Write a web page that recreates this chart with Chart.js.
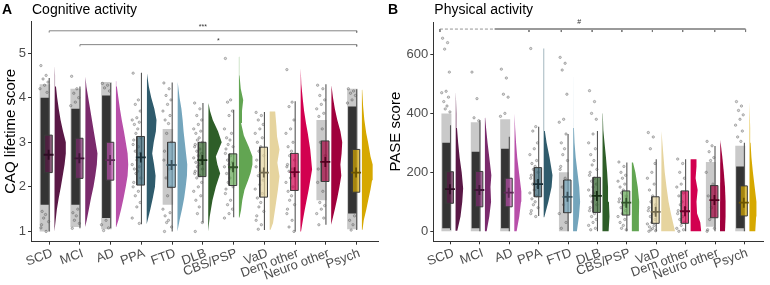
<!DOCTYPE html>
<html>
<head>
<meta charset="utf-8">
<script src="https://cdn.jsdelivr.net/npm/chart.js@4.4.1/dist/chart.umd.min.js"></script>
<style>
  html, body { margin: 0; padding: 0; background: #fff; }
  #wrap { position: relative; width: 770px; height: 285px; }
  .panel { position: absolute; top: 0; width: 385px; height: 285px; }
</style>
</head>
<body>
<div id="wrap">
  <div class="panel" style="left:0"><canvas id="cog" width="385" height="285"></canvas></div>
  <div class="panel" style="left:385px"><canvas id="pase" width="385" height="285"></canvas></div>
</div>
<script>
const groups = ['SCD', 'MCI', 'AD', 'PPA', 'FTD', 'DLB', 'CBS/PSP', 'VaD', 'Dem other', 'Neuro other', 'Psych'];
const groupColors = ['#5a1846', '#7a2a6c', '#b84fa9', '#2f5b6c', '#74a5bc', '#2e5e28', '#62a552', '#e6d49e', '#d2004f', '#a0003c', '#d6a800'];

// --- A: cognitive activity (CAQ lifetime score)
const cogYTicks = [1, 2, 3, 4, 5];
const cogQ1 = [2.32, 2.19, 2.15, 2.04, 1.99, 2.23, 2.03, 1.77, 1.92, 2.12, 1.88];
const cogQ3 = [3.16, 3.09, 3.0, 3.13, 3.0, 3.0, 2.74, 2.89, 2.75, 3.03, 2.84];
const cogMean = [2.72, 2.64, 2.6, 2.66, 2.49, 2.6, 2.44, 2.32, 2.33, 2.56, 2.32];
const cogWhiskLo = [1.0, 1.07, 1.07, 1.16, 1.0, 1.2, 1.32, 1.03, 1.0, 1.15, 1.03];
const cogWhiskHi = [4.44, 4.25, 4.33, 4.56, 4.34, 3.88, 3.73, 3.68, 3.92, 4.3, 4.19];
const cogCoreLo = [1.6, 1.6, 1.3, null, null, null, null, null, null, null, 1.4];
const cogCoreHi = [4.0, 3.75, 4.05, null, null, null, null, null, null, null, 3.8];
const cogFringeLo = [1.0, 1.1, 1.05, null, 1.6, null, null, null, null, 1.7, 1.05];
const cogFringeHi = [4.3, 4.2, 4.35, null, 3.3, null, null, null, null, 3.5, 4.2];
const cogPoints = [
  [4.72, 4.5, 4.42, 4.35, 4.28, 4.2, 4.12, 1.45, 1.38, 1.3, 1.22, 1.15, 1.08, 1.0],
  [4.48, 4.2, 4.1, 4.0, 3.9, 3.82, 1.5, 1.42, 1.35, 1.25, 1.18, 1.07],
  [4.32, 4.28, 4.22, 4.15, 1.25, 1.15, 1.08, 1.02],
  [4.55, 3.95, 3.85, 3.7, 3.55, 3.5, 3.45, 3.4, 3.3, 3.2, 3.1, 3.05, 2.95, 2.9, 2.8, 2.75, 2.6, 2.5, 2.45, 2.4, 2.35, 2.3, 2.2, 2.1, 2.0, 1.9, 1.8, 1.65, 1.55, 1.3, 1.18],
  [4.33, 4.2, 4.05, 3.95, 3.85, 3.7, 3.6, 3.5, 3.42, 3.2, 3.0, 2.8, 2.6, 2.4, 2.2, 2.0, 1.8, 1.5, 1.42, 1.35, 1.25, 1.2, 1.1, 1.0],
  [3.88, 3.75, 3.6, 3.5, 3.4, 3.3, 3.25, 3.2, 3.1, 3.05, 3.0, 2.95, 2.9, 2.85, 2.8, 2.75, 2.7, 2.65, 2.6, 2.55, 2.5, 2.45, 2.4, 2.35, 2.3, 2.25, 2.2, 2.1, 2.0, 1.9, 1.8, 1.7, 1.55, 1.4, 1.2, 1.0],
  [4.88, 3.95, 3.9, 3.7, 3.6, 3.3, 3.2, 3.1, 3.05, 2.95, 2.9, 2.85, 2.75, 2.7, 2.6, 2.55, 2.5, 2.45, 2.4, 2.3, 2.2, 2.1, 2.0, 1.95, 1.85, 1.7, 1.6, 1.5, 1.4, 1.3],
  [3.67, 3.6, 3.5, 3.4, 3.3, 3.2, 3.1, 3.0, 2.9, 2.8, 2.7, 2.6, 2.45, 2.35, 2.25, 2.15, 2.05, 1.95, 1.85, 1.75, 1.65, 1.55, 1.45, 1.35, 1.25, 1.15, 1.05],
  [4.63, 3.9, 3.8, 3.5, 3.3, 3.2, 3.0, 2.9, 2.8, 2.7, 2.6, 2.5, 2.45, 2.4, 2.35, 2.3, 2.2, 2.1, 2.0, 1.9, 1.8, 1.7, 1.6, 1.5, 1.4, 1.25, 1.1, 1.0],
  [4.28, 4.2, 4.05, 3.95, 3.85, 3.75, 3.65, 3.58, 3.3, 3.0, 2.7, 2.4, 2.1, 1.9, 1.65, 1.58, 1.5, 1.4, 1.3, 1.15],
  [4.2, 4.15, 4.1, 4.05, 3.95, 3.88, 1.35, 1.25, 1.15, 1.03]
];
// half violins: [score, width in category units]
const cogViolins = [
  [[1.0, .01], [1.25, .04], [1.5, .08], [1.75, .14], [2, .21], [2.25, .27], [2.5, .33], [2.75, .37], [3, .37], [3.25, .28], [3.5, .2], [3.75, .14], [4, .09], [4.25, .05], [4.5, .02], [4.72, .01]],
  [[1.1, .01], [1.25, .05], [1.5, .12], [1.75, .19], [2, .27], [2.25, .33], [2.5, .38], [2.75, .4], [3, .34], [3.25, .28], [3.5, .22], [3.75, .16], [4, .1], [4.25, .04], [4.47, .01]],
  [[1.1, .01], [1.25, .08], [1.5, .17], [1.75, .25], [2, .32], [2.25, .38], [2.5, .4], [2.75, .38], [3, .32], [3.25, .26], [3.5, .19], [3.75, .13], [4, .08], [4.25, .03], [4.37, .01]],
  [[1.16, .01], [1.3, .05], [1.5, .12], [1.75, .2], [2, .27], [2.25, .29], [2.5, .24], [2.75, .18], [3, .23], [3.25, .3], [3.5, .32], [3.75, .25], [4, .15], [4.25, .07], [4.55, .01]],
  [[1.0, .01], [1.25, .07], [1.5, .15], [1.75, .22], [2, .27], [2.25, .31], [2.5, .32], [2.75, .28], [3, .24], [3.25, .2], [3.5, .17], [3.75, .13], [4, .07], [4.35, .01]],
  [[1.0, .01], [1.33, .05], [1.7, .14], [2.0, .25], [2.3, .39], [2.5, .3], [2.68, .25], [2.85, .35], [3.0, .44], [3.25, .32], [3.5, .15], [3.7, .06], [3.88, .01]],
  [[1.31, .02], [1.48, .07], [1.7, .11], [1.93, .18], [2.15, .3], [2.31, .38], [2.5, .44], [2.68, .44], [2.9, .32], [3.15, .16], [3.43, .07], [3.7, .1], [3.95, .14], [4.2, .06], [4.5, .02], [4.92, .01]],
  [[1.04, .03], [1.19, .11], [1.56, .19], [1.94, .27], [2.24, .32], [2.54, .25], [2.84, .32], [3.13, .24], [3.36, .22], [3.69, .18]],
  [[1.0, .02], [1.25, .08], [1.48, .14], [1.94, .27], [2.39, .38], [2.84, .32], [3.2, .24], [3.43, .18], [3.7, .12], [3.95, .08], [4.3, .03], [4.66, .01]],
  [[1.15, .02], [1.5, .12], [1.75, .2], [2.0, .27], [2.25, .33], [2.5, .3], [2.75, .34], [3.0, .36], [3.25, .3], [3.5, .2], [3.75, .12], [4.0, .06], [4.28, .01]],
  [[1.04, .02], [1.25, .06], [1.48, .14], [1.75, .22], [1.94, .28], [2.15, .33], [2.31, .36], [2.5, .34], [2.68, .28], [3.0, .2], [3.21, .14], [3.5, .08], [3.8, .04], [4.18, .01]]
];
const cogBracketFrom = [0, 1];
const cogBracketTo = [10, 10];
const cogBracketY = [5.5, 5.19];
const cogBracketLabel = ['***', '*'];

// --- B: physical activity (PASE score)
const paseYTicks = [0, 200, 400, 600];
const paseQ1 = [95, 83, 83, 117, 63, 64, 55, 27, 27, 46, 52];
const paseQ3 = [202, 203, 180, 216, 174, 183, 137, 117, 137, 155, 154];
const paseMean = [143, 140, 131, 160, 117, 120, 97, 66, 68, 106, 97];
const paseWhiskLo = [4, 0, 0, 52, 0, 0, 0, 0, 0, 0, 0];
const paseWhiskHi = [360, 377, 321, 355, 330, 340, 233, 244, 244, 289, 300];
const paseCoreLo = [10, 10, 10, null, null, null, null, null, null, null, 10];
const paseCoreHi = [300, 270, 280, null, null, null, null, null, null, null, 220];
const paseFringeLo = [0, 0, 0, null, 0, null, null, null, null, 15, 0];
const paseFringeHi = [400, 370, 380, null, 200, null, null, null, null, 235, 290];
const pasePoints = [
  [655, 640, 618, 540, 475, 470, 455, 440, 425, 415, 405],
  [540, 450, 385, 375],
  [550, 520, 465, 455, 400, 390],
  [620, 355, 340, 300, 280, 260, 240, 230, 220, 210, 200, 190, 180, 170, 160, 150, 140, 130, 120, 110, 100, 90, 80, 70, 60, 50],
  [590, 570, 547, 465, 380, 370, 330, 300, 280, 260, 240, 220, 210, 180, 150, 120, 90, 60, 30, 10],
  [477, 440, 400, 380, 330, 300, 280, 260, 240, 225, 210, 200, 190, 180, 170, 160, 150, 140, 130, 120, 110, 100, 90, 80, 70, 60, 50, 40, 30, 20, 10, 5],
  [235, 220, 200, 190, 180, 170, 160, 150, 140, 130, 120, 110, 100, 90, 80, 70, 60, 50, 40, 30, 20, 10, 5],
  [335, 320, 280, 230, 200, 180, 160, 140, 120, 100, 90, 80, 70, 60, 50, 40, 30, 25, 20, 15, 10, 5, 2, 0],
  [245, 230, 200, 180, 160, 150, 130, 120, 100, 90, 80, 70, 60, 50, 40, 30, 20, 10, 5, 0],
  [305, 290, 270, 250, 240, 200, 160, 120, 80, 40, 10, 5, 0],
  [440, 425, 410, 395, 380, 360, 340, 320, 305]
];
const paseViolins = [
  [[2, .06], [50, .17], [100, .23], [145, .26], [200, .21], [250, .14], [300, .09], [350, .05], [400, .03], [475, .01]],
  [[0, .06], [50, .15], [100, .21], [150, .19], [190, .22], [250, .15], [300, .09], [350, .04], [385, .01]],
  [[0, .08], [50, .17], [100, .23], [135, .24], [200, .16], [250, .1], [300, .06], [350, .03], [400, .01]],
  [[48, .02], [100, .16], [150, .27], [190, .3], [250, .2], [300, .1], [340, .04], [375, .015], [620, .015]],
  [[0, .13], [50, .2], [100, .24], [150, .21], [200, .15], [250, .09], [300, .05], [350, .03], [400, .02], [590, .012]],
  [[0, .21], [50, .24], [100, .22], [150, .19], [200, .16], [250, .12], [300, .07], [343, .03], [400, .012], [479, .01]],
  [[0, .22], [50, .24], [100, .25], [150, .2], [200, .12], [233, .04]],
  [[0, .47], [30, .4], [60, .33], [100, .25], [150, .18], [200, .12], [250, .08], [300, .04], [340, .01]],
  [[0, .36], [30, .33], [60, .22], [100, .2], [140, .24], [180, .17], [220, .2], [244, .2]],
  [[0, .17], [50, .19], [100, .19], [150, .17], [200, .13], [250, .08], [310, .01]],
  [[0, .2], [50, .23], [100, .24], [150, .18], [200, .12], [250, .07], [300, .04], [350, .025], [440, .01]]
];
const paseBracketY = 686;
const paseBracketEnds = [-0.36, 2.67, 3.77, 4.82, 5.83, 6.87, 7.9, 8.99, 10.04];
const paseDashTo = 1.5;
const paseBracketLabel = '#';

const FONT = '"Liberation Sans", Arial, sans-serif';
const jitter = [-0.27, -0.1, -0.2, -0.04, -0.15, -0.3, -0.07, -0.23, -0.12, -0.18, -0.02, -0.25];

function shade(hex, f, a) {
  const n = parseInt(hex.slice(1), 16);
  const r = (n >> 16) & 255, g = (n >> 8) & 255, b = n & 255;
  return `rgba(${Math.round(r * f)},${Math.round(g * f)},${Math.round(b * f)},${a})`;
}

function rect(x0, x1, y0, y1, fill, order, border) {
  return {
    data: [{x: x0, y: y0}, {x: x1, y: y0}, {x: x1, y: y1}, {x: x0, y: y1}, {x: x0, y: y0}],
    fill: 'shape', backgroundColor: fill,
    borderColor: border || 'rgba(0,0,0,0)', borderWidth: border ? 1 : 0,
    pointRadius: 0, order: order
  };
}

function segment(pts, color, width, order, dash) {
  return {data: pts, borderColor: color, borderWidth: width, borderDash: dash || [], pointRadius: 0, fill: false, order: order};
}

function groupDatasets(d) {
  const ds = [];
  groups.forEach((g, i) => {
    const col = groupColors[i];
    if (d.fringeLo[i] != null) ds.push(rect(i - 0.31, i + 0.03, d.fringeLo[i], d.fringeHi[i], 'rgba(60,60,60,0.28)', 8));
    if (d.coreLo[i] != null) ds.push(rect(i - 0.28, i + 0.0, d.coreLo[i], d.coreHi[i], 'rgba(12,12,12,0.85)', 8));
    ds.push({
      data: d.points[i].map((v, k) => ({x: i + jitter[k % jitter.length], y: v})),
      showLine: false, pointRadius: 1.2, pointBackgroundColor: 'rgba(150,150,150,0.35)',
      pointBorderColor: 'rgba(40,40,40,0.5)', pointBorderWidth: 0.6, order: 7
    });
    // half violin to the right of the box
    const base = i + 0.17;
    const v = d.violins[i];
    const poly = [{x: base, y: v[0][0]}]
      .concat(v.map(p => ({x: base + p[1], y: p[0]})))
      .concat([{x: base, y: v[v.length - 1][0]}]);
    ds.push({data: poly, fill: 'shape', backgroundColor: col, borderWidth: 0, pointRadius: 0, order: 6});
    ds.push(segment([{x: i, y: d.lo[i]}, {x: i, y: d.hi[i]}], '#555', 1.1, 5));
    ds.push(rect(i - 0.15, i + 0.1, d.q1[i], d.q3[i], shade(col, 1, 0.7), 4, '#3a3a3a'));
    ds.push({
      data: [{x: i - 0.02, y: d.mean[i]}], showLine: false, pointStyle: 'cross',
      pointRadius: 5, pointBorderColor: shade(col, 0.5, 1), pointBorderWidth: 1.8, order: 3
    });
  });
  return ds;
}

function textPlugin(cfg) {
  return {
    id: 'panelText',
    afterDraw(chart) {
      const {ctx, chartArea, scales} = chart;
      ctx.save();
      ctx.fillStyle = '#000';
      ctx.textBaseline = 'alphabetic';
      ctx.textAlign = 'left';
      ctx.font = 'bold 14px ' + FONT;
      ctx.fillText(cfg.letter, cfg.letterX, 14);
      ctx.font = '14px ' + FONT;
      ctx.fillText(cfg.title, chartArea.left + 1, 14);
      ctx.fillStyle = '#333';
      ctx.font = '7px ' + FONT;
      ctx.textAlign = 'center';
      cfg.labels.forEach(l => {
        ctx.fillText(l.text, scales.x.getPixelForValue(l.x), scales.y.getPixelForValue(l.y) - 2);
      });
      ctx.restore();
    }
  };
}

function axisStyle() {
  return {
    grid: {display: true, drawOnChartArea: false, drawTicks: true, tickLength: 3, color: '#333', lineWidth: 1},
    border: {display: true, color: '#333', width: 1}
  };
}

function buildChart(id, d, opt) {
  const datasets = groupDatasets(d).concat(opt.brackets);
  new Chart(document.getElementById(id), {
    type: 'line',
    data: {datasets: datasets},
    options: {
      responsive: false,
      animation: false,
      layout: {padding: {top: opt.top, right: opt.right, left: 0, bottom: 0}},
      plugins: {legend: {display: false}, tooltip: {enabled: false}},
      scales: {
        x: Object.assign({
          type: 'linear', min: opt.xMin, max: opt.xMax,
          afterBuildTicks: s => { s.ticks = groups.map((g, i) => ({value: i})); },
          afterFit: s => { s.height = opt.xHeight; },
          ticks: {
            callback: v => groups[v], autoSkip: false, minRotation: 20, maxRotation: 20,
            color: '#4d4d4d', font: {size: 13, family: FONT}, padding: 1, labelOffset: 3
          }
        }, axisStyle()),
        y: Object.assign({
          type: 'linear', min: opt.yMin, max: opt.yMax,
          afterBuildTicks: s => { s.ticks = opt.yTicks.map(t => ({value: t})); },
          afterFit: s => { s.width = opt.yWidth; },
          ticks: {color: '#4d4d4d', font: {size: 13, family: FONT}, padding: 2},
          title: {display: true, text: opt.yTitle, color: '#000', font: {size: 15, family: FONT}, padding: {top: 2, bottom: 0}}
        }, axisStyle())
      }
    },
    plugins: [textPlugin(opt)]
  });
}

// brackets for panel A
const cogBrackets = cogBracketFrom.map((f, k) => segment([
  {x: f, y: cogBracketY[k] - 0.04}, {x: f, y: cogBracketY[k]},
  {x: cogBracketTo[k], y: cogBracketY[k]}, {x: cogBracketTo[k], y: cogBracketY[k] - 0.04}
], '#777', 0.9, 1));

// brackets for panel B
const paseBrackets = [
  segment([{x: paseBracketEnds[0], y: paseBracketY}, {x: paseDashTo, y: paseBracketY}], '#888', 0.9, 1, [3, 2]),
  segment([{x: paseDashTo, y: paseBracketY}, {x: paseBracketEnds[paseBracketEnds.length - 1], y: paseBracketY}], '#9a9a9a', 2, 1)
].concat(paseBracketEnds.map(e => segment([{x: e, y: paseBracketY}, {x: e, y: paseBracketY - 10}], '#777', 0.9, 1)));

buildChart('cog', {
  q1: cogQ1, q3: cogQ3, mean: cogMean, lo: cogWhiskLo, hi: cogWhiskHi,
  coreLo: cogCoreLo, coreHi: cogCoreHi, fringeLo: cogFringeLo, fringeHi: cogFringeHi,
  points: cogPoints, violins: cogViolins
}, {
  letter: 'A', letterX: 2, title: 'Cognitive activity', yTitle: 'CAQ lifetime score',
  top: 21, right: 5, xHeight: 43.3, yWidth: 31,
  xMin: -0.592, xMax: 10.7, yMin: 0.77, yMax: 5.72, yTicks: cogYTicks,
  brackets: cogBrackets,
  labels: cogBracketLabel.map((t, k) => ({text: t, x: (cogBracketFrom[k] + cogBracketTo[k]) / 2, y: cogBracketY[k]}))
});

buildChart('pase', {
  q1: paseQ1, q3: paseQ3, mean: paseMean, lo: paseWhiskLo, hi: paseWhiskHi,
  coreLo: paseCoreLo, coreHi: paseCoreHi, fringeLo: paseFringeLo, fringeHi: paseFringeHi,
  points: pasePoints, violins: paseViolins
}, {
  letter: 'B', letterX: 3, title: 'Physical activity', yTitle: 'PASE score',
  top: 22, right: 3, xHeight: 43.7, yWidth: 48.3,
  xMin: -0.586, xMax: 10.64, yMin: -34, yMax: 710, yTicks: paseYTicks,
  brackets: paseBrackets,
  labels: [{text: paseBracketLabel, x: 4.38, y: paseBracketY + 10}]
});
</script>
</body>
</html>
